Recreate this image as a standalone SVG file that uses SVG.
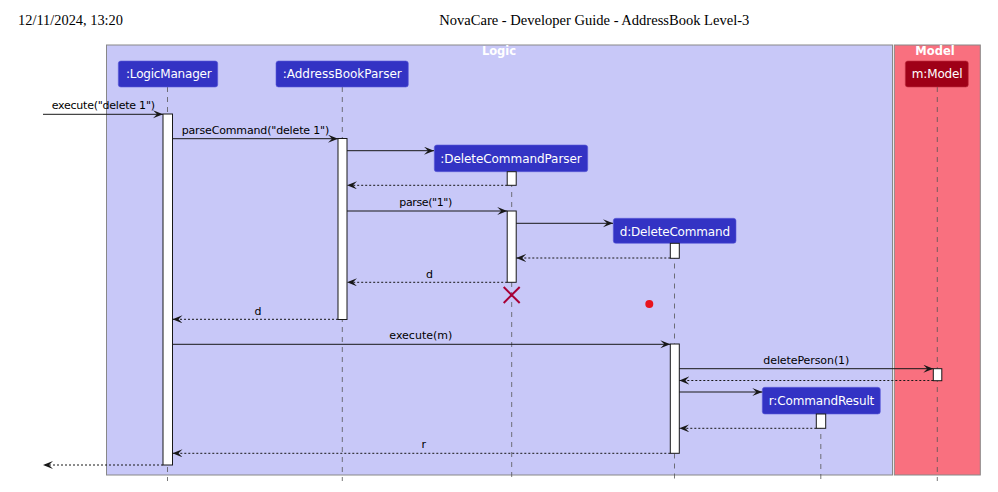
<svg xmlns="http://www.w3.org/2000/svg" width="998" height="492" viewBox="0 0 998 492">
<style>
.hdr{font-family:"Liberation Serif","Times New Roman",serif;font-size:14.4px;fill:#000}
.grp{font-family:"DejaVu Sans",sans-serif;font-size:11.5px;font-weight:bold;fill:#fff}
.pbox{fill:#3333C4;stroke:#5A5AD8;stroke-width:0.6}
.mbox{fill:#9F0017;stroke:#C03040;stroke-width:0.6}
.pt{font-family:"DejaVu Sans",sans-serif;font-size:12px;fill:#fff}
.life{stroke:#555;stroke-width:0.8;stroke-dasharray:5,5;fill:none}
.act{fill:#fff;stroke:#181818;stroke-width:1}
.msg{stroke:#181818;stroke-width:1;fill:none}
.ret{stroke:#181818;stroke-width:1;stroke-dasharray:2,2;fill:none}
.ml{font-family:"DejaVu Sans",sans-serif;font-size:11px;fill:#000}
</style>
<defs>
<marker id="ah" markerUnits="userSpaceOnUse" markerWidth="11" markerHeight="9" refX="10" refY="4" orient="auto">
<path d="M0,0 L10,4 L0,8 L4,4 Z" fill="#181818"/>
</marker>
</defs>
<rect width="998" height="492" fill="#fff"/>
<text class="hdr" x="18" y="25" textLength="105" lengthAdjust="spacingAndGlyphs">12/11/2024, 13:20</text>
<text class="hdr" x="439.3" y="25" textLength="310" lengthAdjust="spacingAndGlyphs">NovaCare - Developer Guide - AddressBook Level-3</text>

<g id="box-logic">
<rect x="106.5" y="45" width="786" height="430" fill="#C8C8F8" stroke="#888" stroke-width="1"/>
<text class="grp" x="499" y="55" text-anchor="middle">Logic</text>
</g>
<g id="box-model">
<rect x="894.3" y="45" width="86" height="430" fill="#F9707F" stroke="#888" stroke-width="1"/>
<text class="grp" x="935" y="55" text-anchor="middle">Model</text>
</g>

<g id="lifelines">
<line class="life" x1="167.5" y1="87" x2="167.5" y2="481"/>
<line class="life" x1="342.3" y1="87" x2="342.3" y2="481"/>
<line class="life" x1="511.7" y1="172" x2="511.7" y2="481"/>
<line class="life" x1="674.5" y1="243.5" x2="674.5" y2="481"/>
<line class="life" x1="820.8" y1="414" x2="820.8" y2="481"/>
<line class="life" x1="937.3" y1="87" x2="937.3" y2="481"/>
</g>

<g id="p-logicmanager">
<rect class="pbox" x="118.3" y="61" width="99.4" height="26" rx="2.5"/>
<text class="pt" x="126" y="78" textLength="85.7" lengthAdjust="spacing">:LogicManager</text>
</g>
<g id="p-addressbookparser">
<rect class="pbox" x="276" y="61" width="132.3" height="26" rx="2.5"/>
<text class="pt" x="282.7" y="78" textLength="119" lengthAdjust="spacing">:AddressBookParser</text>
</g>
<g id="p-deletecommandparser">
<rect class="pbox" x="434.3" y="145" width="153.4" height="26.7" rx="2.5"/>
<text class="pt" x="440.3" y="163.3" textLength="141.4" lengthAdjust="spacing">:DeleteCommandParser</text>
</g>
<g id="p-deletecommand">
<rect class="pbox" x="613.3" y="218.3" width="122.7" height="25" rx="2.5"/>
<text class="pt" x="619.7" y="235.5" textLength="110.3" lengthAdjust="spacing">d:DeleteCommand</text>
</g>
<g id="p-commandresult">
<rect class="pbox" x="762.3" y="387.3" width="118" height="26.7" rx="2.5"/>
<text class="pt" x="768.7" y="405.3" textLength="105.6" lengthAdjust="spacing">r:CommandResult</text>
</g>
<g id="p-model">
<rect class="mbox" x="905.3" y="61" width="63" height="26" rx="2.5"/>
<text class="pt" x="911.7" y="78" textLength="51" lengthAdjust="spacing">m:Model</text>
</g>

<g id="activations">
<rect class="act" x="163" y="114" width="9.5" height="351"/>
<rect class="act" x="338" y="138.5" width="9" height="181"/>
<rect class="act" x="507.2" y="171.7" width="9" height="13.6"/>
<rect class="act" x="507.2" y="211" width="9" height="71.3"/>
<rect class="act" x="670.3" y="243.3" width="9" height="15"/>
<rect class="act" x="670.3" y="344" width="9" height="109.3"/>
<rect class="act" x="933.3" y="368.7" width="8.5" height="12"/>
<rect class="act" x="816.3" y="414" width="9.4" height="14.3"/>
</g>

<g id="connectors">
<line class="msg" x1="43" y1="114.3" x2="163" y2="114.3" marker-end="url(#ah)"/>
<text class="ml" x="51.7" y="109" textLength="103.3" lengthAdjust="spacing">execute("delete 1")</text>
<line class="msg" x1="172.5" y1="138.7" x2="338" y2="138.7" marker-end="url(#ah)"/>
<text class="ml" x="181.7" y="133.5" textLength="147.6" lengthAdjust="spacing">parseCommand("delete 1")</text>
<line class="msg" x1="347" y1="150.7" x2="434" y2="150.7" marker-end="url(#ah)"/>
<line class="ret" x1="507.2" y1="185.3" x2="347" y2="185.3" marker-end="url(#ah)"/>
<line class="msg" x1="347" y1="211" x2="507.2" y2="211" marker-end="url(#ah)"/>
<text class="ml" x="399.3" y="206.3" textLength="53" lengthAdjust="spacing">parse("1")</text>
<line class="msg" x1="516.2" y1="223.3" x2="613" y2="223.3" marker-end="url(#ah)"/>
<line class="ret" x1="670.3" y1="258" x2="516.2" y2="258" marker-end="url(#ah)"/>
<line class="ret" x1="507.2" y1="282.3" x2="347" y2="282.3" marker-end="url(#ah)"/>
<text class="ml" x="426" y="277.5">d</text>
<line class="ret" x1="338" y1="319.3" x2="172.5" y2="319.3" marker-end="url(#ah)"/>
<text class="ml" x="254.5" y="315">d</text>
<line class="msg" x1="172.5" y1="344.3" x2="670.3" y2="344.3" marker-end="url(#ah)"/>
<text class="ml" x="389.3" y="339.3" textLength="63" lengthAdjust="spacing">execute(m)</text>
<line class="msg" x1="679.3" y1="368.7" x2="933.3" y2="368.7" marker-end="url(#ah)"/>
<text class="ml" x="763.3" y="364" textLength="86" lengthAdjust="spacing">deletePerson(1)</text>
<line class="ret" x1="933.3" y1="380.5" x2="679.3" y2="380.5" marker-end="url(#ah)"/>
<line class="msg" x1="679.3" y1="392" x2="762.3" y2="392" marker-end="url(#ah)"/>
<line class="ret" x1="816.3" y1="428.3" x2="679.3" y2="428.3" marker-end="url(#ah)"/>
<line class="ret" x1="670.3" y1="453.3" x2="172.5" y2="453.3" marker-end="url(#ah)"/>
<text class="ml" x="421.5" y="448.3">r</text>
<line class="ret" x1="163" y1="465" x2="43" y2="465" marker-end="url(#ah)"/>
</g>

<g id="destroy">
<path d="M503.7,287 L519.7,303 M519.7,287 L503.7,303" stroke="#A80036" stroke-width="2" fill="none"/>
</g>
<circle id="dot" cx="649.3" cy="304" r="4" fill="#E8141E"/>
</svg>
